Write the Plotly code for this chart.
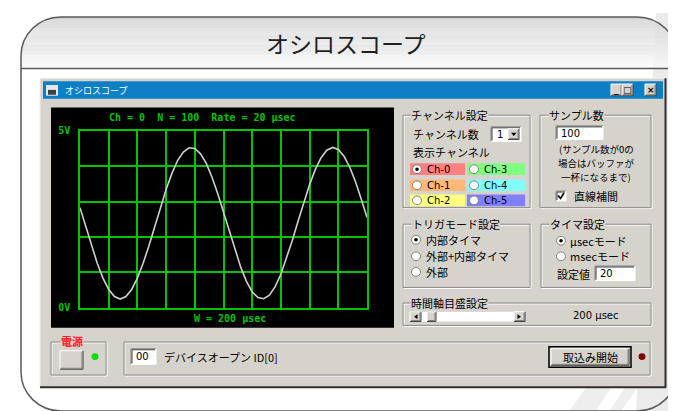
import math
import plotly.graph_objects as go

W, H = 676, 411

# ---------------- data ----------------
sample_index = list(range(0, 101, 2))
voltage = [2.83, 2.29, 1.75, 1.26, 0.84, 0.52, 0.32, 0.25, 0.32, 0.52,
           0.84, 1.26, 1.75, 2.29, 2.83, 3.34, 3.79, 4.16, 4.40, 4.52,
           4.50, 4.35, 4.08, 3.69, 3.22, 2.70, 2.15, 1.63, 1.15, 0.75,
           0.45, 0.29, 0.26, 0.36, 0.60, 0.95, 1.40, 1.91, 2.45, 2.98,
           3.48, 3.91, 4.24, 4.45, 4.53, 4.47, 4.28, 3.97, 3.56, 3.07, 2.55]
x_grid_ticks = list(range(0, 101, 10))
y_tick_vals = [0, 5]
y_tick_text = ["0V", "5V"]
channel_labels = ["Ch-0", "Ch-1", "Ch-2", "Ch-3", "Ch-4", "Ch-5"]
channel_colors = ["#ff8080", "#ffb877", "#ffff80", "#80ff80", "#80ffff", "#8080ff"]
page_title = "オシロスコープ"
window_title = "オシロスコープ"
scope_header = "Ch = 0  N = 100  Rate = 20 μsec"
scope_footer = "W = 200 μsec"
sample_note = ["(サンプル数が0の", "場合はバッファが", "一杯になるまで)"]

# ---------------- helpers ----------------
WIN = "#d6d3cc"
CJK = "Noto Sans CJK JP"
MONO = "DejaVu Sans Mono"
GREEN = "#00c400"

shapes = []
annotations = []


def X(px):
    return px / W


def Y(py):
    return 1 - py / H


def P(px, py):
    return f"{X(px):.5f},{Y(py):.5f}"


def rect(x0, y0, x1, y1, fill=None, line=None, lw=1):
    shapes.append(dict(type="rect", xref="paper", yref="paper",
                       x0=X(x0), x1=X(x1), y0=Y(y1), y1=Y(y0),
                       fillcolor=fill or "rgba(0,0,0,0)",
                       line=dict(color=line or "rgba(0,0,0,0)", width=lw if line else 0),
                       layer="below"))


def seg(x0, y0, x1, y1, color, lw=1):
    shapes.append(dict(type="line", xref="paper", yref="paper",
                       x0=X(x0), x1=X(x1), y0=Y(y0), y1=Y(y1),
                       line=dict(color=color, width=lw), layer="below"))


def circ(cx, cy, r, fill, line=None, lw=1):
    shapes.append(dict(type="circle", xref="paper", yref="paper",
                       x0=X(cx - r), x1=X(cx + r), y0=Y(cy + r), y1=Y(cy - r),
                       fillcolor=fill, line=dict(color=line or fill, width=lw if line else 0),
                       layer="below"))


def poly(pts, fill, line=None, lw=1):
    path = "M " + " L ".join(P(a, b) for a, b in pts) + " Z"
    shapes.append(dict(type="path", xref="paper", yref="paper", path=path,
                       fillcolor=fill, line=dict(color=line or "rgba(0,0,0,0)", width=lw if line else 0),
                       layer="below"))


def text(x, y, s, size=11, color="#000000", anchor="left", family=CJK, bg=None, weight="normal", pad=None):
    a = dict(x=X(x), y=Y(y), xref="paper", yref="paper", text=s, showarrow=False,
             xanchor=anchor, yanchor="middle",
             font=dict(family=family, size=size, color=color, weight=weight))
    if bg:
        a["bgcolor"] = bg
        a["borderpad"] = 0
    if pad is not None:
        a["borderpad"] = pad
    annotations.append(a)


def raised(x0, y0, x1, y1, fill=WIN):
    rect(x0, y0, x1, y1, fill)
    seg(x0, y0, x1, y0, "#ffffff")
    seg(x0, y0, x0, y1, "#ffffff")
    seg(x0, y1, x1, y1, "#404040")
    seg(x1, y0, x1, y1, "#404040")
    seg(x0 + 1, y1 - 1, x1 - 1, y1 - 1, "#808080")
    seg(x1 - 1, y0 + 1, x1 - 1, y1 - 1, "#808080")


def sunken(x0, y0, x1, y1, fill="#ffffff"):
    rect(x0, y0, x1, y1, fill)
    seg(x0, y0, x1, y0, "#808080")
    seg(x0, y0, x0, y1, "#808080")
    seg(x0 + 1, y0 + 1, x1 - 1, y0 + 1, "#404040")
    seg(x0 + 1, y0 + 1, x0 + 1, y1 - 1, "#404040")
    seg(x0, y1, x1, y1, "#ffffff")
    seg(x1, y0, x1, y1, "#ffffff")


def group(x0, y0, x1, y1, label=None, lx=None, color="#000000"):
    rect(x0 + 1, y0 + 1, x1 + 1, y1 + 1, line="#ffffff")
    rect(x0, y0, x1, y1, line="#8a8a8a")
    if label:
        text(lx if lx is not None else x0 + 8, y0, label, size=11, color=color, bg=WIN)


def radio(cx, cy, on=False, bg="#ffffff"):
    circ(cx, cy, 4.5, bg, "#808080", 1)
    if on:
        circ(cx, cy, 1.8, "#000000")


# ---------------- background decoration ----------------
poly([(648, 0), (676, 0), (676, 411), (628, 411)], "#ebebeb")
poly([(560, 411), (586, 411), (640, 330), (616, 330)], "#eeeeee")
poly([(600, 411), (612, 411), (665, 330), (653, 330)], "#eeeeee")

# ---------------- outer rounded frame with gradient header ----------------
R = 40.0
L, T, RR, B = 13.0, 4.0, 669.0, 409.0
HB = 57.0
c0 = (0xd2, 0xd2, 0xd2)
c1 = (0xfb, 0xfb, 0xfb)
for i in range(int(T), int(HB)):
    yc = i + 0.5
    if yc < T + R:
        d = math.sqrt(max(R * R - (T + R - yc) ** 2, 0))
        xl = L + R - d
        xr = RR - R + d
    else:
        xl, xr = L, RR
    t = (yc - T) / (HB - T)
    col = "#%02x%02x%02x" % tuple(int(c0[k] + (c1[k] - c0[k]) * t) for k in range(3))
    rect(xl, i, xr, i + 1.05, fill=col)

k = 0.5523 * R
frame = ("M " + P(L, T + R) + " C " + P(L, T + R - k) + " " + P(L + R - k, T) + " " + P(L + R, T) +
         " L " + P(RR - R, T) + " C " + P(RR - R + k, T) + " " + P(RR, T + R - k) + " " + P(RR, T + R) +
         " L " + P(RR, B - R) + " C " + P(RR, B - R + k) + " " + P(RR - R + k, B) + " " + P(RR - R, B) +
         " L " + P(L + R, B) + " C " + P(L + R - k, B) + " " + P(L, B - R + k) + " " + P(L, B - R) + " Z")
shapes.append(dict(type="path", xref="paper", yref="paper", path=frame,
                   fillcolor="rgba(0,0,0,0)", line=dict(color="#5a5a5a", width=1.5), layer="below"))
seg(L, HB, RR, HB, "#5a5a5a", 1.5)
text(338, 31, page_title, size=23, color="#1e1e1e", anchor="center")

# ---------------- application window ----------------
rect(32, 67, 658, 385, WIN)
seg(32, 67, 658, 67, "#f0f0f0")
seg(32, 67, 32, 385, "#f0f0f0")
seg(32, 384.5, 658, 384.5, "#303030", 2)
seg(657.5, 67, 657.5, 385, "#303030", 2)
rect(35, 70, 655, 88, "#0c7fc7")
rect(38, 74, 50, 85, "#e8e8e8")
rect(40, 79, 48, 84, "#404040")
text(55, 79.5, window_title, size=9, color="#ffffff")
for bx0, sym in [(603, "_"), (614, "□"), (637, "×")]:
    raised(bx0, 73, bx0 + 11, 85)
    text(bx0 + 5.5, 79, sym, size=9, anchor="center", family="DejaVu Sans", weight="bold")

# scope screen
rect(43, 97, 386, 323.5, "#000000")
text(194.5, 107, scope_header, size=10, color=GREEN, anchor="center", family=MONO, weight="bold")
text(222, 314, scope_footer, size=10, color=GREEN, anchor="center", family=MONO, weight="bold")

# --- channel group ---
group(395, 105, 522, 200, "チャンネル設定", 402)
text(403, 124, "チャンネル数", size=11)
sunken(483, 117, 513, 132)
text(487, 124.5, "1", size=10, family="DejaVu Sans")
raised(500, 119, 511, 130)
poly([(503, 123), (508.5, 123), (505.75, 126.5)], "#000000")
text(403, 143, "表示チャンネル", size=11)
rows_y = [160.5, 177, 192.5]
for idx in range(6):
    col = idx // 3
    row = idx % 3
    cx0 = 402 if col == 0 else 459
    cx1 = 457 if col == 0 else 517
    cy = rows_y[row]
    rect(cx0, cy - 6, cx1, cy + 6, channel_colors[idx])
    radio(cx0 + 7, cy, on=(idx == 0))
    text(cx0 + 15, cy, channel_labels[idx], size=10, family="DejaVu Sans")

# --- sample group ---
group(532, 105, 643, 200, "サンプル数", 540)
sunken(548, 116, 595, 130)
text(551, 123.5, "100", size=10, family="DejaVu Sans")
for j, line_txt in enumerate(sample_note):
    text(588, 140 + 14.5 * j, line_txt, size=9.5, anchor="center", pad=0)
sunken(548, 183, 558, 193)
shapes.append(dict(type="path", xref="paper", yref="paper",
                   path="M " + P(550, 187.5) + " L " + P(552.5, 190.5) + " L " + P(556, 185),
                   line=dict(color="#000000", width=1.6), layer="below"))
text(564, 188, "直線補間", size=11)

# --- trigger group ---
group(395, 217, 522, 282, "トリガモード設定", 403)
radio(408, 233, on=True, bg="#ffffff")
text(416, 233, "内部タイマ", size=11)
radio(408, 250)
text(416, 250, "外部+内部タイマ", size=11)
radio(408, 266)
text(416, 266, "外部", size=11)

# --- timer group ---
group(533, 217, 643, 282, "タイマ設定", 541)
radio(553, 234, on=True)
text(560, 234, "μsecモード", size=11)
radio(553, 250)
text(560, 250, "msecモード", size=11)
text(547, 268, "設定値", size=11)
sunken(587, 260, 627, 275)
text(590, 267.5, "20", size=10, family="DejaVu Sans")

# --- time scale group ---
group(395, 298, 643, 321, "時間軸目盛設定", 402)
rect(402, 307, 517, 317, "#ffffff")
raised(402, 307, 413, 317)
poly([(409.5, 309.5), (409.5, 314.5), (406, 312)], "#000000")
raised(419, 307, 428, 317)
raised(506, 307, 517, 317)
poly([(509.5, 309.5), (509.5, 314.5), (513, 312)], "#000000")
text(588, 310.5, "200 μsec", size=10, anchor="center", family="DejaVu Sans")

# --- power box ---
group(43, 338, 98, 372)
text(64, 337, "電源", size=11, color="#ff2020", anchor="center", bg=WIN, weight="bold")
raised(52, 347, 75, 366)
circ(87, 353, 3.5, "#00e000")

# --- status bar ---
group(116, 338, 642, 372)
sunken(123, 345, 148, 361)
text(126, 353, "00", size=10, family="DejaVu Sans")
text(154, 353, "デバイスオープン ID[0]", size=11)
rect(541, 343, 623, 364, line="#000000", lw=1.5)
raised(543, 345, 621, 362)
text(582, 353.5, "取込み開始", size=11, anchor="center")
circ(634, 353, 3.5, "#800000")

# ---------------- scope trace ----------------
fig = go.Figure()
fig.add_trace(go.Scatter(x=sample_index, y=voltage, mode="lines",
                         line=dict(color="#cfcfcf", width=1.6), hoverinfo="skip",
                         showlegend=False))

fig.update_layout(
    width=W, height=H,
    margin=dict(l=0, r=0, t=0, b=0),
    paper_bgcolor="#ffffff",
    plot_bgcolor="#000000",
    shapes=shapes,
    annotations=annotations,
    showlegend=False,
    xaxis=dict(domain=[72 / W, 359 / W], range=[0, 100], tickmode="array",
               tickvals=x_grid_ticks, showticklabels=False, ticks="",
               showgrid=True, gridcolor=GREEN, gridwidth=1.5, zeroline=False,
               showline=True, mirror=True, linecolor=GREEN, linewidth=1.5,
               fixedrange=True),
    yaxis=dict(domain=[1 - 303 / H, 1 - 121 / H], range=[0, 5], tickmode="array",
               tickvals=y_tick_vals, ticktext=y_tick_text,
               tickfont=dict(family=MONO, size=10, color=GREEN, weight="bold"),
               ticks="", ticklabelstandoff=6,
               showgrid=True, gridcolor=GREEN, gridwidth=1.5, zeroline=False,
               minor=dict(tickmode="linear", tick0=0, dtick=1, showgrid=True,
                          gridcolor=GREEN, gridwidth=1.5, ticks=""),
               showline=True, mirror=True, linecolor=GREEN, linewidth=1.5,
               fixedrange=True),
)

fig.write_html("out.html", config={"displayModeBar": False})
